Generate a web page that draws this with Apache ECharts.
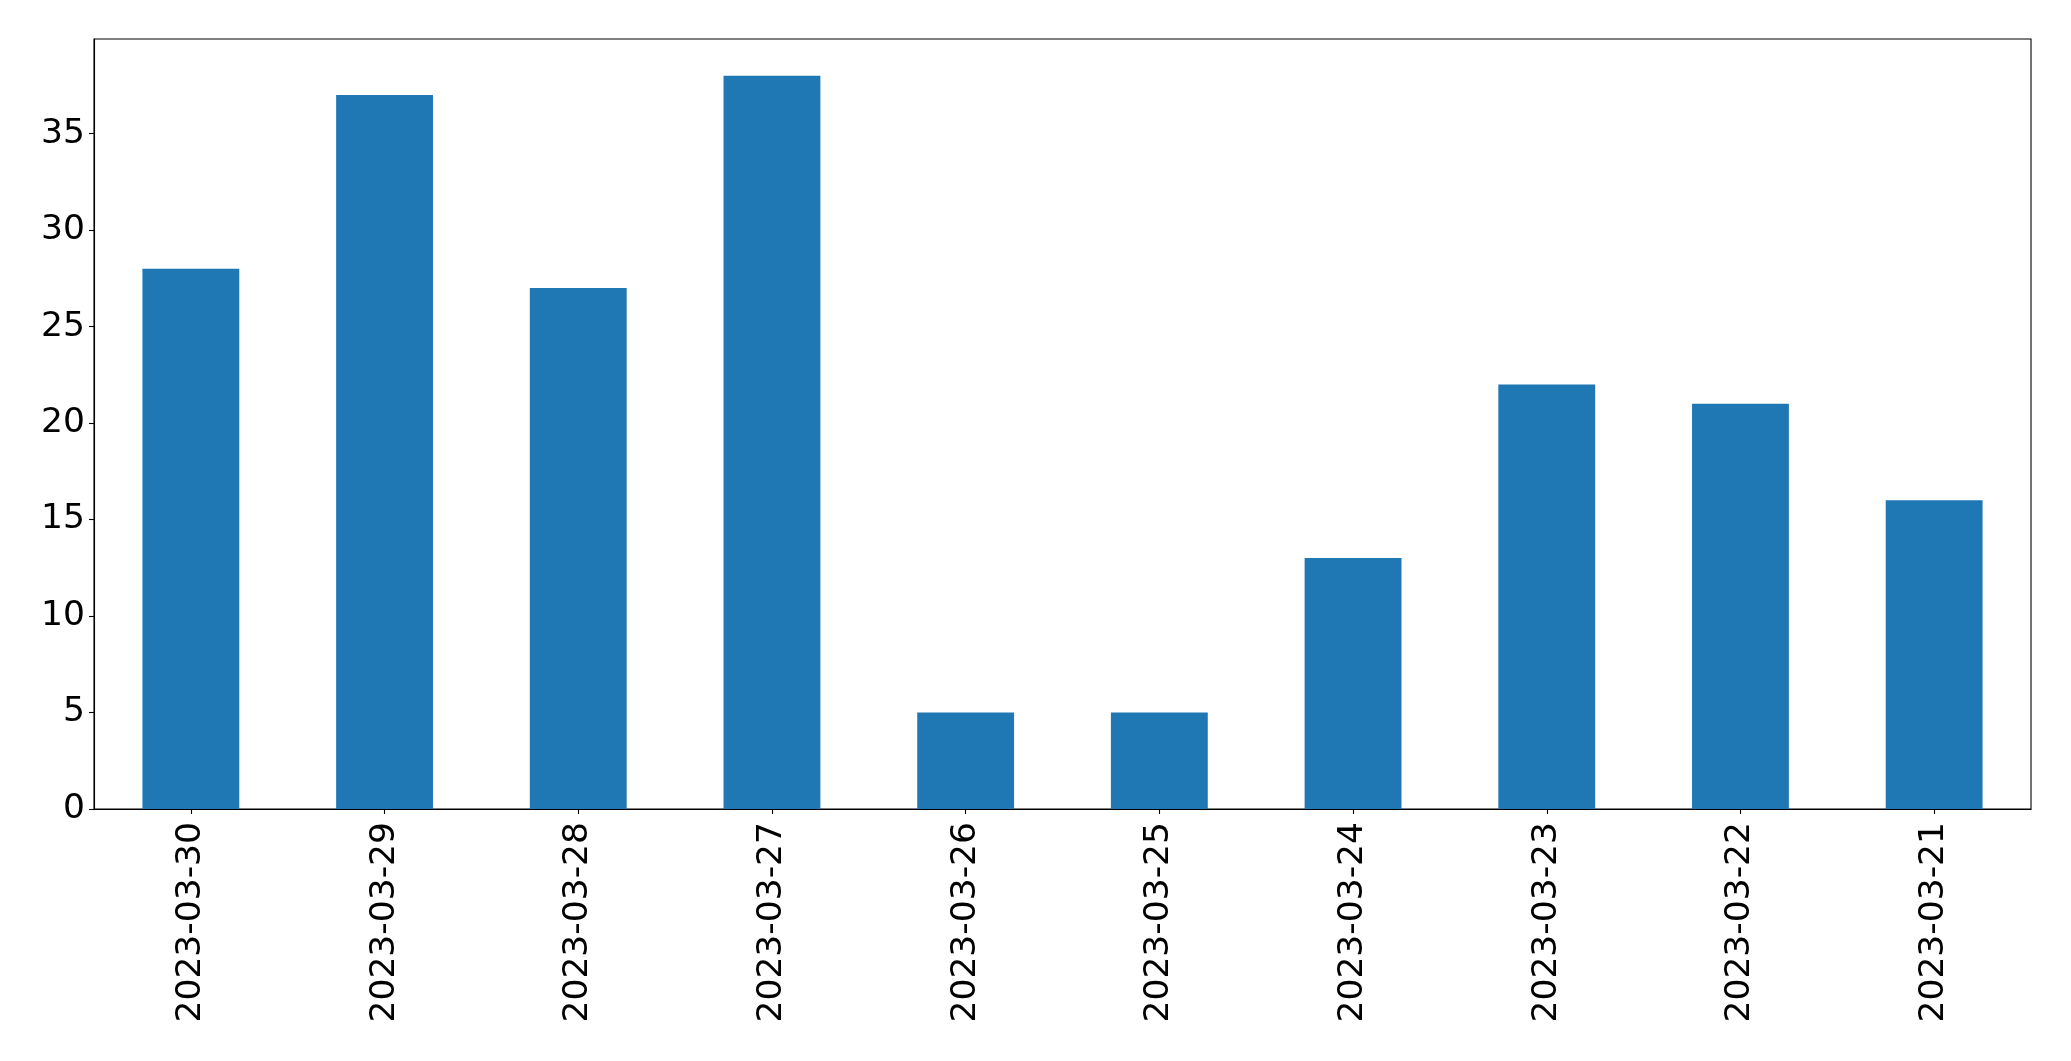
<!DOCTYPE html>
<html>
<head>
<meta charset="utf-8">
<script src="https://cdn.jsdelivr.net/npm/echarts@6/dist/echarts.min.js"></script>
<style>
html,body{margin:0;padding:0;background:#fff;}
#chart{width:2071px;height:1061px;}
</style>
</head>
<body>
<div id="chart"></div>
<script>
const categories = ['2023-03-30','2023-03-29','2023-03-28','2023-03-27','2023-03-26','2023-03-25','2023-03-24','2023-03-23','2023-03-22','2023-03-21'];
const values = [28, 37, 27, 38, 5, 5, 13, 22, 21, 16];
const yTicks = [0, 5, 10, 15, 20, 25, 30, 35];

const chart = echarts.init(document.getElementById('chart'), null, {renderer: 'canvas'});
const font = 'DejaVu Sans';
chart.setOption({
  animation: false,
  backgroundColor: '#ffffff',
  grid: {left: 94, right: 40, top: 39, bottom: 252, show: true, borderColor: '#000', borderWidth: 1.1, backgroundColor: 'transparent'},
  xAxis: {
    type: 'category',
    data: categories,
    axisLine: {show: true, lineStyle: {color: '#000', width: 1.1}},
    axisTick: {show: true, alignWithLabel: true, length: 5, lineStyle: {color: '#000', width: 1.1}},
    axisLabel: {rotate: 90, color: '#000', fontFamily: font, fontSize: 34.5, margin: 13, interval: 0},
    splitLine: {show: false}
  },
  yAxis: {
    type: 'value',
    min: 0,
    max: 39.9,
    interval: 5,
    axisLine: {show: true, lineStyle: {color: '#000', width: 1.1}},
    axisTick: {show: true, length: 5, lineStyle: {color: '#000', width: 1.1}, customValues: yTicks},
    axisLabel: {color: '#000', fontFamily: font, fontSize: 34.5, margin: 9, customValues: yTicks},
    splitLine: {show: false}
  },
  series: [{
    type: 'bar',
    data: values,
    barWidth: '50%',
    itemStyle: {color: '#1f77b4'}
  }]
});
</script>
</body>
</html>
